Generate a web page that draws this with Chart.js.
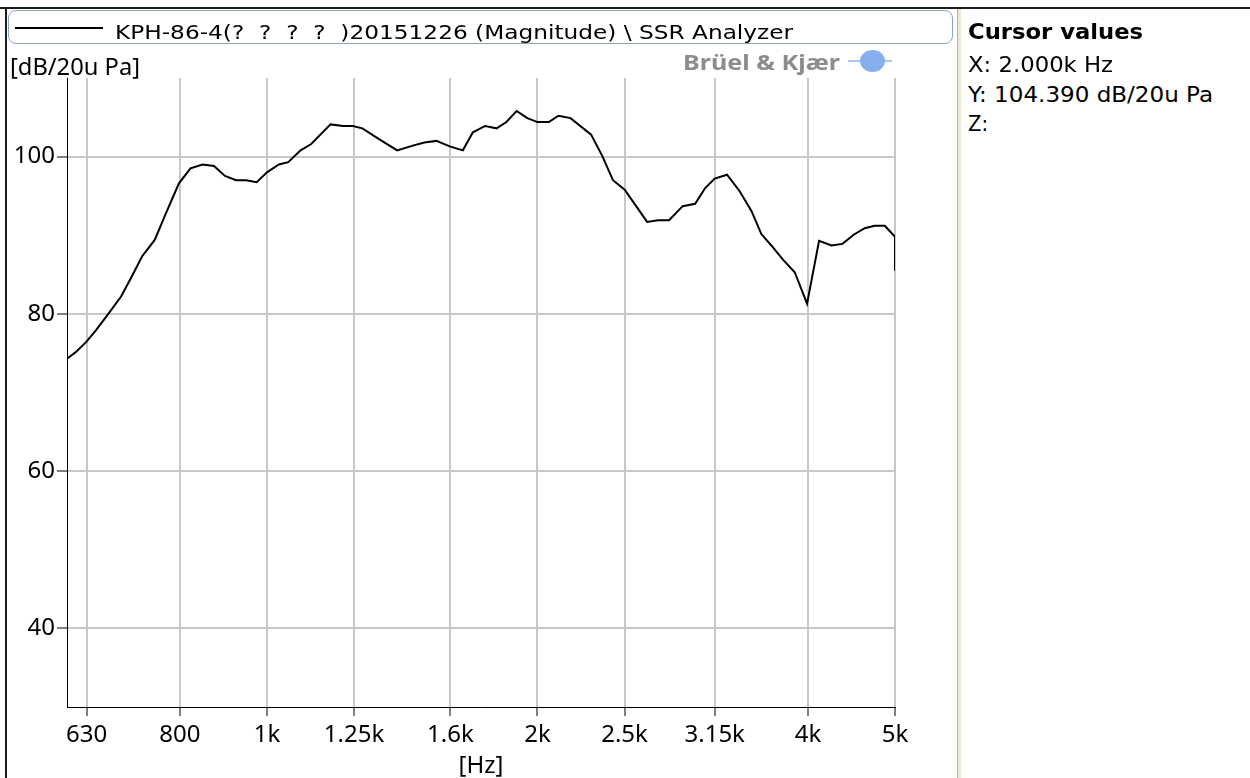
<!DOCTYPE html>
<html>
<head>
<meta charset="utf-8">
<script src="https://cdn.jsdelivr.net/npm/chart.js@4.4.0/dist/chart.umd.min.js"></script>
<style>
  html, body { margin: 0; padding: 0; background: #fff; }
  body { width: 1250px; height: 778px; position: relative; overflow: hidden; }
  #chart { position: absolute; left: 0; top: 0; }
  .txt { position: absolute; white-space: pre; line-height: 1; transform-origin: 0 0; color: #000; }
  .line { position: absolute; }
</style>
</head>
<body>
<canvas id="chart" width="955" height="778"></canvas>

<!-- window frame -->
<div class="line" style="left:0;top:7px;width:1250px;height:2px;background:#1c1c1c"></div>
<div class="line" style="left:5px;top:8px;width:2px;height:770px;background:#1c1c1c"></div>
<div class="line" style="left:957px;top:9px;width:1px;height:769px;background:#b5b29f"></div>
<div class="line" style="left:958px;top:9px;width:3px;height:769px;background:#ece9d8"></div>

<!-- legend box -->
<div class="line" style="left:8px;top:10px;width:943px;height:32px;border:1px solid #88a4ca;border-radius:8px"></div>
<div class="line" style="left:15px;top:27px;width:88px;height:1.5px;background:#000"></div>
<div class="txt fit" data-w="678" style="left:115px;top:20px;font:20px 'DejaVu Sans'">KPH-86-4(?  ?  ?  ?  )20151226 (Magnitude) \ SSR Analyzer</div>

<!-- y unit -->
<div class="txt fit" data-w="130" style="left:10px;top:49px;font:24px 'Noto Sans'">[dB/20u Pa]</div>

<!-- logo -->
<div class="txt fit" data-w="157" style="left:683px;top:46px;font:bold 22px 'Noto Sans';color:#8c8c8c">Brüel &amp; Kjær</div>
<div class="line" style="left:848px;top:60px;width:44px;height:2px;background:#a9c6f5"></div>
<div class="line" style="left:860px;top:50px;width:25px;height:22px;border-radius:50%;background:#86aff0"></div>

<!-- cursor panel -->
<div class="txt fit" data-w="175" style="left:968px;top:19px;font:bold 22px 'DejaVu Sans'">Cursor values</div>
<div class="txt fit" data-w="145" style="left:968px;top:52px;font:22px 'DejaVu Sans'">X: 2.000k Hz</div>
<div class="txt fit" data-w="245" style="left:968px;top:82px;font:22px 'DejaVu Sans'">Y: 104.390 dB/20u Pa</div>
<div class="txt fit" data-w="20" style="left:968px;top:111px;font:22px 'DejaVu Sans'">Z:</div>

<script>
// frequency points [Hz] and magnitude [dB re 20uPa]
const freqs = [599, 599, 612, 629, 645, 665, 688, 706, 726, 750, 772, 798, 822, 848, 873, 898,
  924, 948, 974, 1000, 1031, 1056, 1090, 1120, 1177, 1215, 1246, 1277, 1334, 1396, 1453, 1497,
  1544, 1597, 1652, 1695, 1749, 1801, 1847, 1896, 1949, 2000, 2059, 2111, 2177, 2295, 2361, 2427,
  2501, 2649, 2724, 2802, 2902, 2996, 3074, 3150, 3251, 3358, 3461, 3550, 3642, 3752, 3867, 3991,
  4116, 4249, 4370, 4502, 4627, 4747, 4871, 5000, 5000];
const levels = [72.3, 74.3, 75.1, 76.4, 77.9, 79.9, 82.2, 84.6, 87.3, 89.4, 92.8, 96.6, 98.5, 99.0, 98.8, 97.55,
  97.0, 97.0, 96.75, 98.0, 99.0, 99.3, 100.8, 101.6, 104.1, 103.9, 103.9, 103.6, 102.2, 100.8, 101.4, 101.8,
  102.0, 101.3, 100.8, 103.1, 103.9, 103.6, 104.4, 105.8, 104.9, 104.39, 104.4, 105.2, 104.9, 102.8, 100.1, 97.0,
  95.8, 91.7, 91.9, 91.9, 93.7, 94.0, 96.0, 97.2, 97.7, 95.6, 93.1, 90.15, 88.7, 86.9, 85.3, 81.3,
  89.3, 88.7, 88.9, 90.1, 90.9, 91.2, 91.2, 89.8, 85.5];

const xTickValues = [630, 800, 1000, 1250, 1600, 2000, 2500, 3150, 4000, 5000];
const xTickLabels = ['630', '800', '1k', '1.25k', '1.6k', '2k', '2.5k', '3.15k', '4k', '5k'];
const yTickValues = [40, 60, 80, 100];

const points = freqs.map((f, i) => ({ x: f, y: levels[i] }));
const tickFont = { family: 'Noto Sans', size: 24 };

new Chart(document.getElementById('chart'), {
  type: 'line',
  data: {
    datasets: [{
      data: points,
      borderColor: '#000',
      borderWidth: 2,
      pointRadius: 0,
      tension: 0,
      fill: false
    }]
  },
  options: {
    responsive: false,
    animation: false,
    layout: { padding: { left: 0, top: 78, right: 60, bottom: 0 } },
    plugins: { legend: { display: false }, tooltip: { enabled: false } },
    scales: {
      x: {
        type: 'logarithmic',
        min: 599,
        max: 5000,
        afterBuildTicks: s => { s.ticks = xTickValues.map(v => ({ value: v })); },
        afterFit: s => { s.height = 71; },
        ticks: {
          autoSkip: false, maxRotation: 0, padding: 5, color: '#000', font: tickFont,
          callback: (v, i) => xTickLabels[i]
        },
        grid: { color: '#c8c8c8', lineWidth: 2, tickColor: '#000', tickWidth: 1, tickLength: 9 },
        border: { color: '#000', width: 1 },
        title: {
          display: true, text: '[Hz]', color: '#000',
          font: { family: 'Noto Sans', size: 24, lineHeight: 1 }, padding: 0
        }
      },
      y: {
        min: 30,
        max: 110,
        afterBuildTicks: s => { s.ticks = yTickValues.map(v => ({ value: v })); },
        afterFit: s => { s.width = 67; },
        ticks: { padding: 2, color: '#000', font: tickFont },
        grid: { color: '#c8c8c8', lineWidth: 2, tickColor: '#000', tickWidth: 1, tickLength: 10 },
        border: { color: '#000', width: 1 }
      }
    }
  }
});

// stretch the overlay texts to the widths seen in the screenshot
document.querySelectorAll('.fit').forEach(el => {
  const w = el.getBoundingClientRect().width;
  el.style.transform = 'scaleX(' + (el.dataset.w / w).toFixed(3) + ')';
});
</script>
</body>
</html>
